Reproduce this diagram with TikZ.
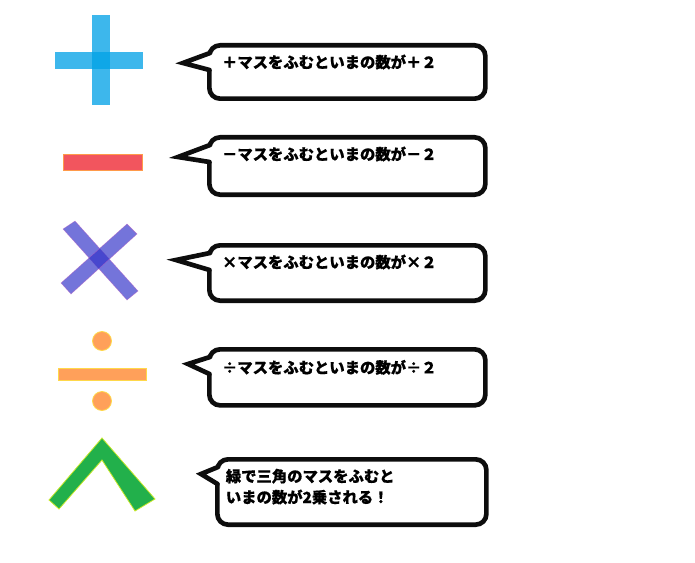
\documentclass[tikz,border=0pt]{standalone}
\usepackage{fontspec}
\usetikzlibrary{positioning, calc}
\newfontfamily\jpfont{Noto Sans CJK JP Black}[FakeBold=0.6]
\definecolor{plusBlue}{RGB}{0,161,230}
\definecolor{minusRed}{HTML}{F2555E}
\definecolor{minusEdge}{HTML}{FF9A4A}
\definecolor{timesBlue}{RGB}{50,50,200}
\definecolor{timesEdge}{HTML}{C060C0}
\definecolor{divOrange}{HTML}{FFA05A}
\definecolor{divEdge}{HTML}{FFD84A}
\definecolor{caretGreen}{HTML}{22B04B}
\definecolor{caretEdge}{HTML}{C8E82A}

\begin{document}
\begin{tikzpicture}[x=0.75pt, y=-0.75pt,
        bubble/.style={draw=black!95, line width=3.5pt, rounded corners=8pt, fill=white, anchor=north west,
            align=left, inner xsep=9.5pt, inner ysep=0pt, text width=188pt, text height=17pt,
            font={\jpfont\fontsize{11.5}{15.75}\selectfont}},
        tail/.style={draw=black!95, line width=3.5pt, line join=miter, line cap=round}
    ]
        \useasboundingbox (0,0) rectangle (695,563);

        % symbols
        \fill[plusBlue, opacity=0.76] (92,15) rectangle (110,105);
        \fill[plusBlue, opacity=0.76] (55,52) rectangle (143,69);
        \filldraw[fill=minusRed, draw=minusEdge, line width=0.5pt] (63,154) rectangle (142,170);
        \filldraw[fill=timesBlue, fill opacity=0.68, draw=timesEdge, draw opacity=0.6, line width=0.3pt]
            (63,229) -- (75,221) -- (138,291) -- (127,300) -- cycle;
        \filldraw[fill=timesBlue, fill opacity=0.68, draw=timesEdge, draw opacity=0.6, line width=0.3pt]
            (127,224) -- (137,234) -- (71,294) -- (61,283) -- cycle;
        \filldraw[fill=divOrange, draw=divEdge, line width=0.6pt] (102,341) circle (9.5);
        \filldraw[fill=divOrange, draw=divEdge, line width=0.6pt] (58,368) rectangle (146,380);
        \filldraw[fill=divOrange, draw=divEdge, line width=0.6pt] (102,401) circle (9.5);
        \filldraw[fill=caretGreen, draw=caretEdge, line width=0.6pt]
            (102,438) -- (155,499) -- (135,511) -- (102,460) -- (59,509) -- (49,500) -- cycle;

        % speech bubbles
        \node[bubble, text depth=23pt] (plusMsg) at (207,43) {＋マスをふむといまの数が＋２};
        \node[bubble, text depth=26pt] (minusMsg) at (207,135) {－マスをふむといまの数が－２};
        \node[bubble, text depth=24.5pt] (timesMsg) at (207,243) {×マスをふむといまの数が×２};
        \node[bubble, text depth=24pt, text height=18pt] (divMsg) at (207,347) {÷マスをふむといまの数が÷２};
        \node[bubble, text depth=32pt, inner xsep=6.4pt, text width=189pt] (squareMsg) at (215,457)
            {緑で三角のマスをふむと\\いまの数が2乗される！};

        \coordinate (plusTip) at (183,63);
        \coordinate (minusTip) at (178,157);
        \coordinate (timesTip) at (176,260);
        \coordinate (divTip) at (188,364);
        \coordinate (squareTip) at (201,474);

        \foreach \msg/\tip in {plusMsg/plusTip, minusMsg/minusTip, timesMsg/timesTip,
                divMsg/divTip, squareMsg/squareTip} {
            \fill[white] ($(\msg.north west)+(2,11)$) -- (\tip) -- ($(\msg.north west)+(2,27)$)
                -- ($(\msg.north west)+(7,27)$) -- ($(\msg.north west)+(7,11)$) -- cycle;
            \draw[tail] ($(\msg.north west)+(3,10)$) -- (\tip) -- ($(\msg.north west)+(2.5,27)$);
        }
    \end{tikzpicture}
\end{document}
